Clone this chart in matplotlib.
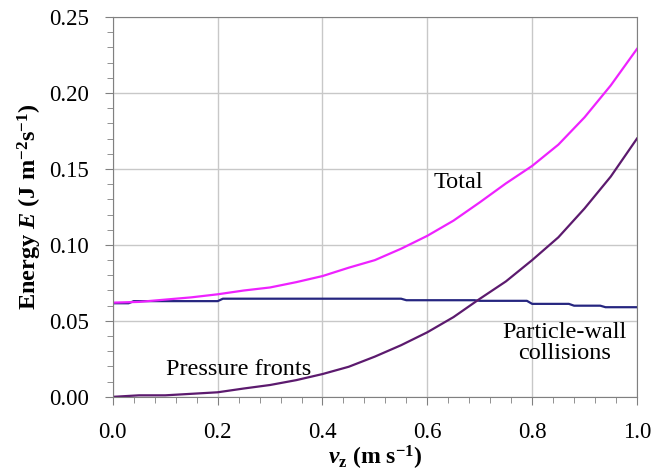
import numpy as np
import matplotlib
matplotlib.use("Agg")
import matplotlib.pyplot as plt
from matplotlib.ticker import MultipleLocator, FormatStrFormatter

plt.rcParams["font.family"] = ["Liberation Serif", "DejaVu Serif"]
plt.rcParams["mathtext.fontset"] = "custom"
plt.rcParams["mathtext.rm"] = "Liberation Serif"
plt.rcParams["mathtext.it"] = "Liberation Serif:italic"
plt.rcParams["mathtext.bf"] = "Liberation Serif:bold"
plt.rcParams["mathtext.bfit"] = "Liberation Serif:italic:bold"

# velocity grid (m/s) and energies
v = [0.00, 0.05, 0.10, 0.15, 0.20, 0.25, 0.30, 0.35, 0.40, 0.45, 0.50,
     0.55, 0.60, 0.65, 0.70, 0.75, 0.80, 0.85, 0.90, 0.95, 1.00]
total = [0.062, 0.0625, 0.064, 0.0655, 0.0675, 0.070, 0.072, 0.0755, 0.0795,
         0.085, 0.090, 0.0975, 0.106, 0.116, 0.128, 0.1405, 0.152, 0.166,
         0.184, 0.205, 0.229]
fronts = [0.000, 0.001, 0.001, 0.002, 0.003, 0.0055, 0.0078, 0.011, 0.015,
          0.0198, 0.0265, 0.034, 0.0425, 0.0525, 0.0645, 0.076, 0.090, 0.105,
          0.124, 0.145, 0.170]
v_wall = [0.0, 0.03, 0.04, 0.20, 0.21, 0.55, 0.56, 0.69, 0.70, 0.79, 0.80,
          0.87, 0.88, 0.93, 0.94, 1.0]
wall = [0.0616, 0.0616, 0.063, 0.063, 0.0646, 0.0646, 0.0636, 0.0636, 0.0632,
        0.0632, 0.0612, 0.0612, 0.060, 0.060, 0.059, 0.059]

fig = plt.figure(figsize=(6.56, 4.73), dpi=100)
ax = fig.add_axes([0.172, 0.161, 0.799, 0.803])

ax.plot(v_wall, wall, color="#262680", lw=1.6)
ax.plot(v, fronts, color="#5c1a6e", lw=1.6)
ax.plot(v, total, color="#ee22ff", lw=1.6)

ax.set_xlim(0, 1.0)
ax.set_ylim(0, 0.25)
ax.xaxis.set_major_locator(MultipleLocator(0.2))
ax.xaxis.set_minor_locator(MultipleLocator(0.04))
ax.yaxis.set_major_locator(MultipleLocator(0.05))
ax.yaxis.set_minor_locator(MultipleLocator(0.01))
ax.xaxis.set_major_formatter(FormatStrFormatter("%.1f"))
ax.yaxis.set_major_formatter(FormatStrFormatter("%.2f"))
ax.tick_params(which="both", direction="out", colors="#808080",
               labelcolor="black", labelsize=16.5)
ax.tick_params(which="major", length=6)
ax.tick_params(which="minor", length=4)
ax.tick_params(axis="y", which="major", pad=11)
ax.tick_params(axis="x", which="major", pad=12)
ax.grid(True, which="major", color="#c8c8c8", lw=1.0)
for s in ax.spines.values():
    s.set_color("#808080")

ax.set_xlabel(r"$\mathbfit{v}_{\mathbf{z}}$ (m s$^{\mathbf{-1}}$)",
              fontsize=17, fontweight="bold", labelpad=1)
ax.set_ylabel(r"Energy $\mathbfit{E}$ (J m$^{\mathbf{-2}}$s$^{\mathbf{-1}}$)",
              fontsize=17.5, fontweight="bold", labelpad=4)

ax.text(0.66, 0.141, "Total", fontsize=17.5, ha="center", va="center")
ax.text(0.24, 0.018, "Pressure fronts", fontsize=17.5, ha="center", va="center")
ax.text(0.861, 0.0355, "Particle-wall\ncollisions", fontsize=17.5,
        ha="center", va="center", linespacing=0.95)

fig.savefig("out.png", dpi=100)
